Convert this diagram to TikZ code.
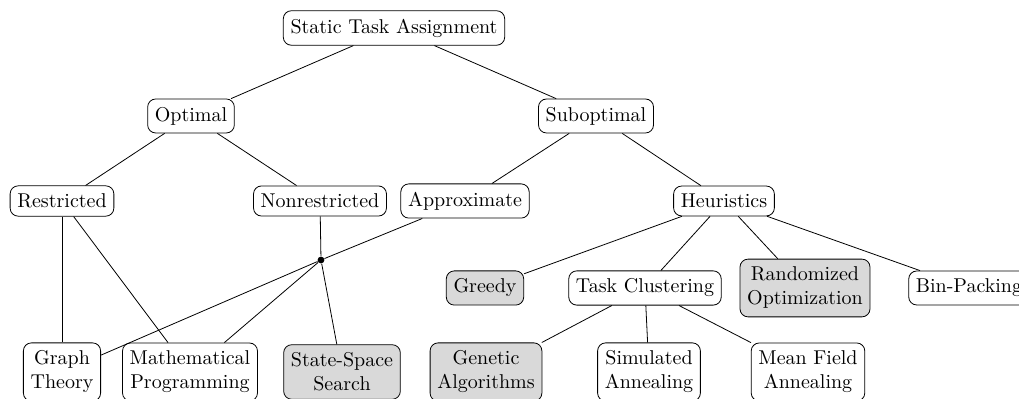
\documentclass[tikz,border=0pt]{standalone}
\usepackage{amsmath}
\usepackage{xcolor}
\usepackage{tikz}
\usetikzlibrary{shapes.geometric, positioning}

\begin{document}
\begin{tikzpicture}[x=0.5pt, y=-0.5pt,
  box/.style={draw, rectangle, rounded corners=4pt, align=center, inner xsep=3.6pt, inner ysep=4pt},
  shaded/.style={box, fill=gray!30}]
\useasboundingbox (0,0) rectangle (1019,399);
% Nodes
\node[box] (sta) at (394,28) {Static Task Assignment};
\node[box] (opt) at (191,116) {Optimal};
\node[box] (subopt) at (596,116) {Suboptimal};
\node[box] (restr) at (62,201) {Restricted};
\node[box] (nonrestr) at (320,201) {Nonrestricted};
\node[box] (approx) at (465,201) {Approximate};
\node[box] (heur) at (724,201) {Heuristics};
\node[circle, fill, inner sep=0pt, minimum size=3.4pt] (junc) at (321,260) {};
\node[shaded] (greedy) at (485,288) {Greedy};
\node[box] (cluster) at (645,288) {Task Clustering};
\node[shaded] (random) at (805,288) {Randomized\\Optimization};
\node[box] (binpack) at (969,288) {Bin-Packing};
\node[box] (graph) at (62,372) {Graph\\Theory};
\node[box] (mathprog) at (190,372) {Mathematical\\Programming};
\node[shaded] (sss) at (342,372) {State-Space\\Search};
\node[shaded] (genetic) at (486,372) {Genetic\\Algorithms};
\node[box] (simann) at (649,372) {Simulated\\Annealing};
\node[box] (mfa) at (808,372) {Mean Field\\Annealing};

% Edges
\draw (sta) -- (opt);
\draw (sta) -- (subopt);
\draw (opt) -- (restr);
\draw (opt) -- (nonrestr);
\draw (subopt) -- (approx);
\draw (subopt) -- (heur);
\draw (restr) -- (graph);
\draw (restr) -- (mathprog);
\draw (nonrestr) -- (junc);
\draw (approx) -- (junc);
\draw (junc) -- (graph);
\draw (junc) -- (mathprog);
\draw (junc) -- (sss);
\draw (heur) -- (greedy);
\draw (heur) -- (cluster);
\draw (heur) -- (random);
\draw (heur) -- (binpack);
\draw (cluster) -- (genetic);
\draw (cluster) -- (simann);
\draw (cluster) -- (mfa);
\end{tikzpicture}
\end{document}
